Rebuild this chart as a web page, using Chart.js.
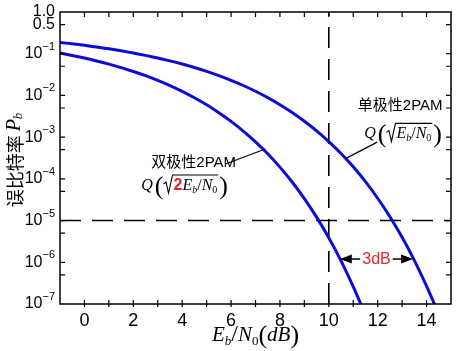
<!DOCTYPE html>
<html>
<head>
<meta charset="utf-8">
<script src="https://cdn.jsdelivr.net/npm/chart.js@4.4.1/dist/chart.umd.min.js"></script>
<style>
  body { margin: 0; background: #fff; }
  #wrap { width: 457px; height: 351px; }
</style>
</head>
<body>
<div id="wrap"><canvas id="grafico-ber"></canvas></div>
<script>
// Eb/N0 (dB) and bit error rate
const snrBipolar = [-1, -0.5, 0, 0.5, 1, 1.5, 2, 2.5, 3, 3.5, 4, 4.5, 5, 5.5, 6, 6.5, 7, 7.5, 8, 8.5, 9, 9.5, 10, 10.5, 11, 11.25, 11.4];
const berBipolar = [0.104, 0.0909, 0.0786, 0.0671, 0.0563, 0.0464, 0.0375, 0.0297, 0.0229, 0.0172, 0.0125, 0.0088, 0.00595, 0.00386, 0.00239, 0.0014, 7.73e-4, 3.99e-4, 1.91e-4, 8.4e-5, 3.36e-5, 1.21e-5, 3.87e-6, 1.08e-6, 2.61e-7, 1.2e-7, 7.4e-8];

const snrUnipolar = [-1, -0.5, 0, 0.5, 1, 1.5, 2, 2.5, 3, 3.5, 4, 4.5, 5, 5.5, 6, 6.5, 7, 7.5, 8, 8.5, 9, 9.5, 10, 10.5, 11, 11.5, 12, 12.5, 13, 13.5, 14, 14.25, 14.4];
const berUnipolar = [0.1865, 0.1726, 0.1587, 0.1447, 0.1309, 0.1173, 0.104, 0.0912, 0.0789, 0.0673, 0.0565, 0.0466, 0.0377, 0.0298, 0.023, 0.0173, 0.0126, 0.00886, 0.006, 0.0039, 0.00241, 0.00142, 7.83e-4, 4.05e-4, 1.94e-4, 8.56e-5, 3.43e-5, 1.24e-5, 3.97e-6, 1.11e-6, 2.69e-7, 1.25e-7, 7.7e-8];

// reference lines and the 3dB gap
const refSnr = 10;
const refBer = 1e-5;
const gapBer = 1.2e-6;
const gapSnr = [10.45, 13.45];

// axes
const xRange = [-1, 15];
const xTickLabels = [0, 2, 4, 6, 8, 10, 12, 14];
const yRange = [1e-7, 1];
const yLabelValues = [1, 0.5, 1e-1, 1e-2, 1e-3, 1e-4, 1e-5, 1e-6, 1e-7];
const yLabelTexts = ['1.0', '0.5', '10^-1', '10^-2', '10^-3', '10^-4', '10^-5', '10^-6', '10^-7'];
const yTickMarks = [0.5, 0.1, 0.05, 0.01, 0.005, 1e-3, 5e-4, 1e-4, 5e-5, 1e-5, 5e-6, 1e-6, 5e-7];

// curve labels (data coordinates)
const labelBipolar = { text: '双极性2PAM', at: [4.47, 2.4e-4], formulaAt: [4.1, 7.5e-5], lead: [[5.8, 2.3e-4], [7.4, 5.2e-4]] };
const labelUnipolar = { text: '单极性2PAM', at: [12.92, 5.6e-3], formulaAt: [13.04, 1.3e-3], lead: [[11.98, 7.6e-4], [10.7, 3.1e-4]] };

const CURVE = '#0c0cd6';
const RED = '#e3262b';
const SERIF = '"Liberation Serif"';
const SANS = '"Liberation Sans"';

const toPts = (xs, ys) => xs.map((x, i) => ({ x: x, y: ys[i] }));

const measureRich = (ctx, parts) => parts.reduce((w, p) => { ctx.font = p[1]; return w + ctx.measureText(p[0]).width; }, 0);
const drawRich = (ctx, x, y, parts) => {
    let cx = x;
    parts.forEach((p) => {
        ctx.font = p[1];
        ctx.fillStyle = p[2] || '#000';
        ctx.fillText(p[0], cx, y + (p[3] || 0));
        cx += ctx.measureText(p[0]).width;
    });
    return cx - x;
};

const innerBipolar = [['2', 'bold 16px ' + SANS, RED], ['E', 'italic 16px ' + SERIF], ['b', 'italic 10px ' + SERIF, null, 3], ['/', '16px ' + SERIF], ['N', 'italic 16px ' + SERIF], ['0', '10px ' + SERIF, null, 3]];
const innerUnipolar = innerBipolar.slice(1);

// Q( sqrt( ... ) ) centred at cx, inner baseline at base
const drawQ = (ctx, cx, base, inner) => {
    const qF = 'italic 16px ' + SERIF;
    const pF = '26px ' + SERIF;
    ctx.font = qF; const wQ = ctx.measureText('Q').width;
    ctx.font = pF; const wP = ctx.measureText('(').width;
    const wR = 10;
    const wI = measureRich(ctx, inner);
    const total = wQ + 2 + wP + wR + wI + 2 + wP;
    let x = cx - total / 2;
    ctx.textAlign = 'left';
    ctx.textBaseline = 'alphabetic';
    ctx.fillStyle = '#000';
    ctx.font = qF; ctx.fillText('Q', x, base); x += wQ + 2;
    ctx.font = pF; ctx.fillText('(', x, base + 4); x += wP;
    ctx.beginPath();
    ctx.lineWidth = 1.1;
    ctx.strokeStyle = '#000';
    ctx.moveTo(x, base - 6);
    ctx.lineTo(x + 2.5, base - 8);
    ctx.lineTo(x + 5, base + 3);
    ctx.lineTo(x + 9, base - 15);
    ctx.lineTo(x + wR + wI + 1, base - 15);
    ctx.stroke();
    x += wR;
    drawRich(ctx, x, base, inner);
    x += wI + 2;
    ctx.font = pF; ctx.fillStyle = '#000'; ctx.fillText(')', x, base + 4);
};

const decoraciones = {
    id: 'decoraciones',
    afterDraw(chart) {
        const { ctx, chartArea: a, scales: { x: sx, y: sy } } = chart;
        const px = (v) => sx.getPixelForValue(v);
        const py = (v) => sy.getPixelForValue(v);
        ctx.save();

        // frame
        ctx.strokeStyle = '#000';
        ctx.lineWidth = 1.5;
        ctx.strokeRect(a.left, a.top, a.right - a.left, a.bottom - a.top);

        // ticks, inward
        ctx.lineWidth = 1.2;
        ctx.beginPath();
        for (let v = xRange[0] + 1; v < xRange[1]; v++) {
            const x = px(v);
            ctx.moveTo(x, a.bottom - 4); ctx.lineTo(x, a.bottom + 3);
            ctx.moveTo(x, a.top); ctx.lineTo(x, a.top + 5);
        }
        yTickMarks.forEach((v) => {
            const y = py(v);
            ctx.moveTo(a.left, y); ctx.lineTo(a.left + 5, y);
            ctx.moveTo(a.right - 5, y); ctx.lineTo(a.right, y);
        });
        ctx.stroke();

        // y tick labels with superscripts
        ctx.fillStyle = '#000';
        ctx.textBaseline = 'middle';
        yLabelValues.forEach((v, i) => {
            const [base, exp] = yLabelTexts[i].split('^');
            const y = py(v);
            ctx.font = '16px ' + SANS;
            const wb = ctx.measureText(base).width;
            let we = 0;
            if (exp) { ctx.font = '11px ' + SANS; we = ctx.measureText(exp.replace('-', '\u2212')).width; }
            const x0 = a.left - 5 - wb - we;
            ctx.textAlign = 'left';
            ctx.font = '16px ' + SANS;
            ctx.fillText(base, x0, y);
            if (exp) { ctx.font = '11px ' + SANS; ctx.fillText(exp.replace('-', '\u2212'), x0 + wb, y - 7); }
        });

        // y axis title
        ctx.save();
        ctx.translate(15, 160);
        ctx.rotate(-Math.PI / 2);
        const yTitle = [['误比特率 ', '18px "Noto Sans CJK SC"'], ['P', 'italic 20px ' + SERIF], ['b', 'italic 13px ' + SERIF, null, 4]];
        ctx.textBaseline = 'middle';
        ctx.textAlign = 'left';
        drawRich(ctx, -measureRich(ctx, yTitle) / 2, 0, yTitle);
        ctx.restore();

        // x axis title
        const xTitle = [['E', 'italic 21px ' + SERIF], ['b', 'italic 13px ' + SERIF, null, 4], ['/', '24px ' + SERIF], ['N', 'italic 21px ' + SERIF], ['0', '13px ' + SERIF, null, 4], ['(', '26px ' + SERIF, null, 2], ['dB', 'italic 21px ' + SERIF], [')', '26px ' + SERIF, null, 2]];
        ctx.textBaseline = 'alphabetic';
        drawRich(ctx, (a.left + a.right) / 2 - measureRich(ctx, xTitle) / 2, 341, xTitle);

        // curve labels
        [[labelBipolar, innerBipolar], [labelUnipolar, innerUnipolar]].forEach(([lab, inner]) => {
            ctx.font = '15px ' + SANS + ', "Noto Sans CJK SC"';
            ctx.fillStyle = '#000';
            ctx.textAlign = 'center';
            ctx.textBaseline = 'middle';
            ctx.fillText(lab.text, px(lab.at[0]), py(lab.at[1]));
            drawQ(ctx, px(lab.formulaAt[0]), py(lab.formulaAt[1]) + 6, inner);
            ctx.beginPath();
            ctx.lineWidth = 1.2;
            ctx.strokeStyle = '#000';
            ctx.moveTo(px(lab.lead[0][0]), py(lab.lead[0][1]));
            ctx.lineTo(px(lab.lead[1][0]), py(lab.lead[1][1]));
            ctx.stroke();
        });

        // 3dB arrow
        const gy = py(gapBer);
        const gx1 = px(gapSnr[0]);
        const gx2 = px(gapSnr[1]);
        ctx.beginPath();
        ctx.lineWidth = 1.3;
        ctx.moveTo(gx1 + 10, gy); ctx.lineTo(gx2 - 10, gy);
        ctx.stroke();
        ctx.fillStyle = '#000';
        ctx.beginPath();
        ctx.moveTo(gx1, gy); ctx.lineTo(gx1 + 12, gy - 4.5); ctx.lineTo(gx1 + 12, gy + 4.5); ctx.closePath();
        ctx.moveTo(gx2, gy); ctx.lineTo(gx2 - 12, gy - 4.5); ctx.lineTo(gx2 - 12, gy + 4.5); ctx.closePath();
        ctx.fill();
        ctx.font = '16px ' + SANS;
        const tw = ctx.measureText('3dB').width;
        const tx = (gx1 + gx2) / 2;
        ctx.fillStyle = '#fff';
        ctx.fillRect(tx - tw / 2 - 2, gy - 8, tw + 4, 16);
        ctx.fillStyle = RED;
        ctx.textAlign = 'center';
        ctx.textBaseline = 'middle';
        ctx.fillText('3dB', tx, gy + 1);

        ctx.restore();
    },
};

new Chart(document.getElementById('grafico-ber').getContext('2d'), {
    type: 'line',
    data: {
        datasets: [
            { data: toPts(snrBipolar, berBipolar), borderColor: CURVE, borderWidth: 3, pointRadius: 0, tension: 0.3 },
            { data: toPts(snrUnipolar, berUnipolar), borderColor: CURVE, borderWidth: 3, pointRadius: 0, tension: 0.3 },
            { data: [{ x: xRange[0], y: refBer }, { x: xRange[1], y: refBer }], borderColor: '#000', borderWidth: 1.6, borderDash: [21, 11], pointRadius: 0 },
            { data: [{ x: refSnr, y: yRange[0] }, { x: refSnr, y: yRange[1] }], borderColor: '#000', borderWidth: 1.6, borderDash: [21, 11], pointRadius: 0 },
        ],
    },
    options: {
        responsive: true,
        maintainAspectRatio: false,
        animation: false,
        layout: { padding: { top: 12, right: 5, left: 0, bottom: 0 } },
        plugins: { legend: { display: false }, tooltip: { enabled: false } },
        scales: {
            x: {
                type: 'linear',
                min: xRange[0],
                max: xRange[1],
                grid: { display: false, drawTicks: false },
                border: { display: false },
                ticks: {
                    stepSize: 1,
                    autoSkip: false,
                    maxRotation: 0,
                    padding: 6,
                    color: '#000',
                    font: { family: 'Liberation Sans', size: 18 },
                    callback: (v) => (xTickLabels.includes(v) ? String(v) : ''),
                },
                afterFit: (s) => { s.height = 47; },
            },
            y: {
                type: 'logarithmic',
                min: yRange[0],
                max: yRange[1],
                grid: { display: false, drawTicks: false },
                border: { display: false },
                ticks: { display: false },
                afterFit: (s) => { s.width = 60; },
            },
        },
    },
    plugins: [decoraciones],
});
</script>
</body>
</html>
